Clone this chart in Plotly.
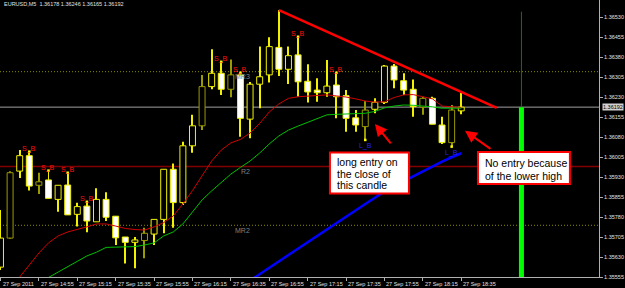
import plotly.graph_objects as go

# ---------------- data ----------------
SYMBOL = "EURUSD,M5"
HEADER_OHLC = ["1.36178", "1.36246", "1.36165", "1.36192"]

OPEN = [1.35592, 1.35701, 1.35952, 1.36010, 1.35899, 1.35919, 1.35846, 1.35900, 1.35790, 1.35821,
        1.35762, 1.35846, 1.35783, 1.35705, 1.35685, 1.35692, 1.35716, 1.35771, 1.35959, 1.35834,
        1.36047, 1.36122, 1.36269, 1.36319, 1.36259, 1.36313, 1.36147, 1.36278, 1.36313, 1.36416,
        1.36334, 1.36388, 1.36289, 1.36256, 1.36246, 1.36275, 1.36235, 1.36152, 1.36119, 1.36184,
        1.36210, 1.36346, 1.36291, 1.36259, 1.36192, 1.36225, 1.36125, 1.36059, 1.36178]
HIGH = [1.35806, 1.35952, 1.36031, 1.36025, 1.35946, 1.35954, 1.35899, 1.35946, 1.35833, 1.35837,
        1.35888, 1.35873, 1.35783, 1.35705, 1.35705, 1.35740, 1.35771, 1.35959, 1.35981, 1.36062,
        1.36163, 1.36313, 1.36409, 1.36362, 1.36371, 1.36321, 1.36286, 1.36419, 1.36454, 1.36556,
        1.36419, 1.36456, 1.36353, 1.36300, 1.36369, 1.36321, 1.36256, 1.36181, 1.36215, 1.36225,
        1.36350, 1.36354, 1.36319, 1.36296, 1.36231, 1.36231, 1.36156, 1.36200, 1.36246]
LOW = [1.35581, 1.35698, 1.35926, 1.35879, 1.35866, 1.35850, 1.35800, 1.35788, 1.35744, 1.35723,
       1.35762, 1.35765, 1.35675, 1.35606, 1.35588, 1.35625, 1.35675, 1.35719, 1.35740, 1.35825,
       1.36021, 1.36106, 1.36259, 1.36238, 1.36229, 1.36081, 1.36075, 1.36188, 1.36284, 1.36309,
       1.36279, 1.36231, 1.36209, 1.36212, 1.36231, 1.36150, 1.36100, 1.36100, 1.36069, 1.36169,
       1.36204, 1.36263, 1.36238, 1.36156, 1.36163, 1.36128, 1.36054, 1.36044, 1.36165]
CLOSE = [1.35701, 1.35946, 1.36010, 1.35896, 1.35912, 1.35850, 1.35899, 1.35788, 1.35819, 1.35765,
         1.35846, 1.35779, 1.35702, 1.35685, 1.35694, 1.35719, 1.35771, 1.35959, 1.35834, 1.36047,
         1.36122, 1.36269, 1.36319, 1.36259, 1.36313, 1.36150, 1.36278, 1.36306, 1.36419, 1.36334,
         1.36385, 1.36287, 1.36249, 1.36246, 1.36271, 1.36231, 1.36150, 1.36125, 1.36181, 1.36210,
         1.36346, 1.36294, 1.36256, 1.36194, 1.36225, 1.36128, 1.36059, 1.36181, 1.36192]

MA_RED = [1.35465, 1.35510, 1.35555, 1.35600, 1.35645, 1.35683, 1.35709, 1.35724, 1.35733, 1.35743,
          1.35754, 1.35754, 1.35746, 1.35737, 1.35733, 1.35731, 1.35743, 1.35759, 1.35784, 1.35829,
          1.35879, 1.35934, 1.35990, 1.36031, 1.36058, 1.36071, 1.36095, 1.36131, 1.36174, 1.36204,
          1.36225, 1.36231, 1.36234, 1.36236, 1.36238, 1.36234, 1.36230, 1.36223, 1.36215, 1.36211,
          1.36212, 1.36228, 1.36238, 1.36239, 1.36230, 1.36223, 1.36196, 1.36193, 1.36191]
MA_GREEN = [1.35450, 1.35469, 1.35491, 1.35510, 1.35533, 1.35553, 1.35574, 1.35594, 1.35615, 1.35634,
            1.35648, 1.35666, 1.35667, 1.35667, 1.35669, 1.35675, 1.35683, 1.35709, 1.35724, 1.35754,
            1.35799, 1.35844, 1.35878, 1.35911, 1.35941, 1.35966, 1.35990, 1.36020, 1.36054, 1.36084,
            1.36106, 1.36121, 1.36135, 1.36149, 1.36163, 1.36165, 1.36166, 1.36167, 1.36169, 1.36176,
            1.36189, 1.36196, 1.36200, 1.36199, 1.36197, 1.36193, 1.36188, 1.36188, 1.36188]
BLUE_START_BAR = 25
BLUE_LINE = [1.35518, 1.35542, 1.35566, 1.35591, 1.35615, 1.35639, 1.35664, 1.35687, 1.35711, 1.35734,
             1.35758, 1.35782, 1.35805, 1.35829, 1.35852, 1.35876, 1.35896, 1.35915, 1.35934, 1.35953,
             1.35971, 1.35988, 1.36004, 1.36019]

LEVEL_MR3 = 1.36325
LEVEL_R2 = 1.35969
LEVEL_MR2 = 1.35749
BID = 1.36192

PRICE_TICKS = [1.36530, 1.36455, 1.36380, 1.36305, 1.36230, 1.36155, 1.36080, 1.36005,
               1.35930, 1.35855, 1.35780, 1.35705, 1.35630, 1.35555]
TIME_TICK_BARS = [0, 4, 8, 12, 16, 20, 24, 28, 32, 36, 40, 44, 48]
TIME_TICK_LABELS = ["27 Sep 2011", "27 Sep 14:55", "27 Sep 15:15", "27 Sep 15:35", "27 Sep 15:55",
                    "27 Sep 16:15", "27 Sep 16:35", "27 Sep 16:55", "27 Sep 17:15", "27 Sep 17:35",
                    "27 Sep 17:55", "27 Sep 18:15", "27 Sep 18:35"]

SELL_SIGNAL_BARS = [3, 5, 7, 9, 23, 25, 31, 35]
BUY_SIGNAL_BARS = [38, 47]

TRENDLINE_BARS = [29, 51.7]
TRENDLINE_PRICES = [1.36556, 1.36189]

VLINE_BAR = 54.27
VLINE_TOP = 1.36550

CALLOUT1 = ["long entry on", "the close of", "this candle"]
CALLOUT2 = ["No entry because", "of the lower high"]

# ---------------- style ----------------
OLIVE_BARS = {1, 4, 15, 21, 24, 38, 44, 47}
YELLOW = "#f0f000"
OLIVE = "#9a9a00"
X_RANGE = [-0.052, 62.35]
Y_RANGE = [1.35555, 1.365938]
FONT = "Liberation Sans, Arial, sans-serif"

BARS = list(range(len(OPEN)))
tone = [OLIVE if i in OLIVE_BARS else YELLOW for i in BARS]

fig = go.Figure()

# wicks (thin bars, so bodies can cover them)
fig.add_trace(go.Bar(
    x=BARS, base=LOW, y=[h - l for h, l in zip(HIGH, LOW)], width=0.104,
    marker=dict(color=tone, line=dict(width=0)), hoverinfo="skip", showlegend=False))

# bodies
body_base = [min(o, c) for o, c in zip(OPEN, CLOSE)]
body_h = [max(abs(c - o), 0.00002) for o, c in zip(OPEN, CLOSE)]
body_fill = ["#000000" if c > o else "#ffffff" for o, c in zip(OPEN, CLOSE)]
fig.add_trace(go.Bar(
    x=BARS, base=body_base, y=body_h, width=0.62,
    marker=dict(color=body_fill, line=dict(color=tone, width=1)),
    hoverinfo="skip", showlegend=False))

# moving averages
fig.add_trace(go.Scatter(x=BARS, y=MA_RED, mode="lines", line=dict(color="#d00000", width=1),
                         hoverinfo="skip", showlegend=False))
fig.add_trace(go.Scatter(x=BARS, y=MA_GREEN, mode="lines", line=dict(color="#00c000", width=1),
                         hoverinfo="skip", showlegend=False))
fig.add_trace(go.Scatter(x=list(range(BLUE_START_BAR, BLUE_START_BAR + len(BLUE_LINE))), y=BLUE_LINE,
                         mode="lines", line=dict(color="#0000ff", width=2.5),
                         hoverinfo="skip", showlegend=False))
# red trendline
fig.add_trace(go.Scatter(x=TRENDLINE_BARS, y=TRENDLINE_PRICES, mode="lines",
                         line=dict(color="#ff0000", width=2.5), hoverinfo="skip", showlegend=False))

# vertical green marker
fig.add_trace(go.Scatter(x=[VLINE_BAR, VLINE_BAR], y=[VLINE_TOP, BID], mode="lines",
                         line=dict(color="#008000", width=1), hoverinfo="skip", showlegend=False))
fig.add_trace(go.Scatter(x=[VLINE_BAR, VLINE_BAR], y=[BID, Y_RANGE[0] - 0.001], mode="lines",
                         line=dict(color="#00ff00", width=5), hoverinfo="skip", showlegend=False))

shapes = []
# levels
shapes.append(dict(type="line", xref="paper", x0=0, x1=1, yref="y", y0=LEVEL_MR3, y1=LEVEL_MR3,
                   line=dict(color="#8a8a00", width=1, dash="1px,2px"), layer="below"))
shapes.append(dict(type="line", xref="paper", x0=0, x1=1, yref="y", y0=LEVEL_MR2, y1=LEVEL_MR2,
                   line=dict(color="#8a8a00", width=1, dash="1px,2px"), layer="below"))
shapes.append(dict(type="line", xref="paper", x0=0, x1=1, yref="y", y0=LEVEL_R2, y1=LEVEL_R2,
                   line=dict(color="#800000", width=1.5), layer="below"))
shapes.append(dict(type="line", xref="paper", x0=0, x1=1, yref="y", y0=BID, y1=BID,
                   line=dict(color="#a0a0a0", width=1), layer="below"))
# callout boxes
shapes.append(dict(type="rect", xref="x", yref="y", x0=34.32, x1=42.55, y0=1.35868, y1=1.36022,
                   fillcolor="#ffffff", line=dict(color="#ff0000", width=2), layer="above"))
shapes.append(dict(type="rect", xref="x", yref="y", x0=49.74, x1=59.32, y0=1.35904, y1=1.36024,
                   fillcolor="#ffffff", line=dict(color="#ff0000", width=2), layer="above"))

ann = []
small = dict(family=FONT, size=5.5, color="#e0e0e0")
# header
ann.append(dict(xref="paper", yref="paper", x=0, y=1, xanchor="left", yanchor="top", xshift=2, yshift=1,
                text=SYMBOL + "  " + " ".join(HEADER_OHLC), showarrow=False, font=small))
# time labels
for b, t in zip(TIME_TICK_BARS, TIME_TICK_LABELS):
    ann.append(dict(xref="x", yref="paper", x=b, y=0, xanchor="left", yanchor="top", xshift=0, yshift=-1.5,
                    text=t, showarrow=False, font=small))
# bid label
ann.append(dict(xref="paper", yref="y", x=1, y=BID, xanchor="left", yanchor="middle", xshift=3,
                text="1.36192", showarrow=False, bgcolor="#d0d0d0", borderpad=0,
                font=dict(family=FONT, size=5.5, color="#000000")))
# level labels
for lv, name, sh in [(LEVEL_MR3, "MR3", -5), (LEVEL_R2, "R2", -5), (LEVEL_MR2, "MR2", -5)]:
    ann.append(dict(xref="x", yref="y", x=26.2, y=lv, xanchor="right", yanchor="middle", yshift=sh,
                    text=name, showarrow=False, font=dict(family=FONT, size=7, color="#808080")))
# signal texts
for i in SELL_SIGNAL_BARS:
    ann.append(dict(xref="x", yref="y", x=i, y=HIGH[i], xanchor="center", yanchor="middle", yshift=3,
                    text="S_B", showarrow=False, font=dict(family=FONT, size=7, color="#ff1010")))
for i in BUY_SIGNAL_BARS:
    ann.append(dict(xref="x", yref="y", x=i, y=LOW[i], xanchor="center", yanchor="middle", yshift=-6,
                    text="L_B", showarrow=False, font=dict(family=FONT, size=7, color="#2020ff")))
# callout texts
box_font = dict(family=FONT, size=10.5, color="#000000")
for k, line in enumerate(CALLOUT1):
    ann.append(dict(xref="x", yref="y", x=34.84, y=1.35985, xanchor="left", yanchor="middle",
                    yshift=-11.5 * k, text=line, showarrow=False, font=box_font))
for k, line in enumerate(CALLOUT2):
    ann.append(dict(xref="x", yref="y", x=50.29, y=1.35981, xanchor="left", yanchor="middle",
                    yshift=-12.4 * k, text=line, showarrow=False, font=box_font))
# arrows
ann.append(dict(xref="x", yref="y", x=39.01, y=1.36129, ax=17, ay=21, showarrow=True, text="",
                arrowhead=2, arrowsize=1.2, arrowwidth=2, arrowcolor="#ff0000"))
ann.append(dict(xref="x", yref="y", x=48.39, y=1.36103, ax=27, ay=19, showarrow=True, text="",
                arrowhead=2, arrowsize=1.2, arrowwidth=2, arrowcolor="#ff0000"))

fig.update_layout(
    width=625, height=288,
    margin=dict(l=0, r=26, t=0, b=11, pad=0),
    paper_bgcolor="#000000", plot_bgcolor="#000000",
    barmode="overlay", showlegend=False,
    shapes=shapes, annotations=ann,
    xaxis=dict(range=X_RANGE, showgrid=False, zeroline=False, showline=True, linecolor="#b0b0b0",
               linewidth=1, ticks="outside", ticklen=3, tickcolor="#b0b0b0", tickmode="array",
               tickvals=TIME_TICK_BARS, showticklabels=False, fixedrange=True),
    yaxis=dict(range=Y_RANGE, side="right", showgrid=False, zeroline=False, showline=True,
               linecolor="#b0b0b0", linewidth=1, ticks="outside", ticklen=3, tickcolor="#b0b0b0",
               tickmode="array", tickvals=PRICE_TICKS, ticktext=["%.5f" % p for p in PRICE_TICKS],
               tickfont=dict(family=FONT, size=5.5, color="#e0e0e0"), fixedrange=True),
)

# signal dots drawn last (on top)
fig.add_trace(go.Scatter(x=SELL_SIGNAL_BARS, y=[HIGH[i] for i in SELL_SIGNAL_BARS], mode="markers",
                         marker=dict(symbol="square", size=2.5, color="#ffff00"),
                         hoverinfo="skip", showlegend=False))
fig.add_trace(go.Scatter(x=BUY_SIGNAL_BARS, y=[LOW[i] for i in BUY_SIGNAL_BARS], mode="markers",
                         marker=dict(symbol="square", size=2.5, color="#ffff00"),
                         hoverinfo="skip", showlegend=False))

fig.write_html("out.html")
